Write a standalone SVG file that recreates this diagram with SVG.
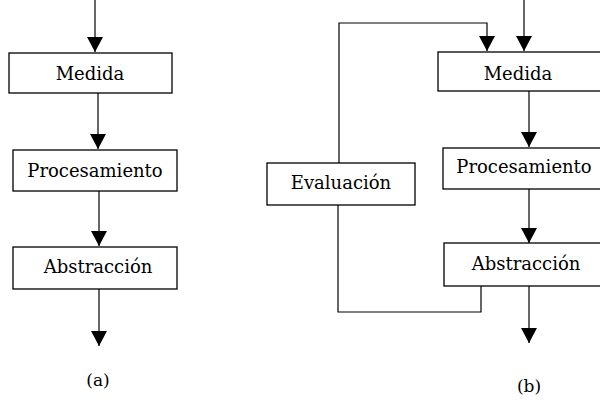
<svg xmlns="http://www.w3.org/2000/svg" width="600" height="400" viewBox="0 0 600 400">
<style>
.box{fill:#fff;stroke:#000;stroke-width:1.3}
.lbl{font-family:"DejaVu Serif","Liberation Serif",serif;font-size:18px;fill:#000;text-anchor:middle}
.cap{font-family:"DejaVu Serif","Liberation Serif",serif;font-size:17px;fill:#000;text-anchor:middle}
.edge{fill:none;stroke:#000;stroke-width:1.2}
.arr{marker-end:url(#ah)}
</style>
<defs>
<marker id="ah" markerUnits="userSpaceOnUse" markerWidth="16" markerHeight="16" refX="15" refY="8" orient="auto">
<path d="M0,0 L15,8 L0,16 z" fill="#000"/>
</marker>
</defs>
<rect width="600" height="400" fill="#fff"/>
<g id="connectors">
<path class="edge arr" d="M95,0 V52"/>
<path class="edge arr" d="M98,93 V149"/>
<path class="edge arr" d="M99,191 V246"/>
<path class="edge arr" d="M99,289 V346"/>
<path class="edge arr" d="M524,0 V51"/>
<path class="edge arr" d="M339,163 V23 H487 V51"/>
<path class="edge arr" d="M529,91 V147"/>
<path class="edge arr" d="M529,189 V243"/>
<path class="edge arr" d="M529,286 V343"/>
<path class="edge" d="M481,286 V312 H338 V205"/>
</g>
<g id="a-medida"><rect class="box" x="9" y="53" width="163" height="40"/><text class="lbl" x="90" y="80">Medida</text></g>
<g id="a-procesamiento"><rect class="box" x="13" y="150" width="164" height="41"/><text class="lbl" x="95" y="177">Procesamiento</text></g>
<g id="a-abstraccion"><rect class="box" x="13" y="247" width="164" height="42"/><text class="lbl" x="98" y="273">Abstracción</text></g>
<g id="b-medida"><rect class="box" x="438" y="52" width="164" height="39"/><text class="lbl" x="518" y="80">Medida</text></g>
<g id="b-procesamiento"><rect class="box" x="443" y="148" width="159" height="41"/><text class="lbl" x="524" y="173">Procesamiento</text></g>
<g id="b-evaluacion"><rect class="box" x="267" y="163" width="148" height="42"/><text class="lbl" x="341" y="189">Evaluación</text></g>
<g id="b-abstraccion"><rect class="box" x="444" y="243" width="158" height="43"/><text class="lbl" x="526" y="270">Abstracción</text></g>
<text class="cap" x="98" y="386">(a)</text>
<text class="cap" x="529" y="392">(b)</text>
</svg>
